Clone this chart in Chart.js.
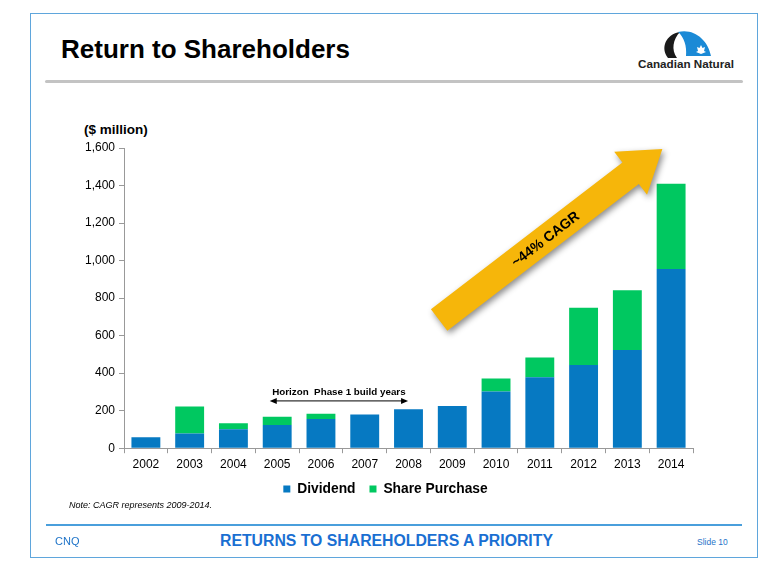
<!DOCTYPE html>
<html>
<head>
<meta charset="utf-8">
<script src="https://cdn.jsdelivr.net/npm/chart.js@4.4.1/dist/chart.umd.min.js"></script>
<style>
  body { margin: 0; background: #fff; font-family: "Liberation Sans", Arial, sans-serif; }
  #slide { position: relative; width: 765px; height: 569px; overflow: hidden; }
  .frame { position: absolute; left: 30px; top: 13px; width: 726px; height: 543px; border: 1px solid #5fa6dc; }
  .title { position: absolute; left: 61px; top: 34px; font-size: 26px; font-weight: bold; color: #000; }
  .rule { position: absolute; left: 45px; top: 80px; width: 698px; height: 3px; background: #c3c3c3; border-radius: 2px; }
  .unit { position: absolute; left: 84px; top: 122px; font-size: 13.5px; font-weight: bold; }
  .note { position: absolute; left: 69px; top: 500px; font-size: 9px; font-style: italic; }
  .foot-rule { position: absolute; left: 46px; top: 524px; width: 696px; height: 2px; background: #4a9fdc; }
  .cnq { position: absolute; left: 55px; top: 535px; font-size: 11px; color: #1f74c8; }
  .motto { position: absolute; left: 220px; top: 532px; font-size: 15.8px; font-weight: bold; color: #1a6fd2; }
  .slide-no { position: absolute; left: 697px; top: 537px; font-size: 8.5px; color: #1f74c8; }
  .logo { position: absolute; left: 630px; top: 26px; }
  #wrap { position: absolute; left: 78px; top: 136px; width: 632px; height: 370px; }
</style>
</head>
<body>
<div id="slide">
  <div class="frame"></div>
  <div class="title">Return to Shareholders</div>
  <div class="rule"></div>
  <svg class="logo" width="110" height="46" viewBox="0 0 110 46">
    <path d="M50 6 C36 8 30 22 38 32 L47 32 C41 24 43 13 50 6 Z" fill="#1a1a1a"/>
    <path d="M48 6 C64 2 78 14 81 30 L56 30 C57 20 54 11 48 6 Z" fill="#1b8ad6"/>
    <path d="M71 19 L72.5 22 L75 21 L74 25 L76 26 L71 28 L66 26 L68 25 L67 21 L69.5 22 Z" fill="#fff"/>
    <text x="8" y="42" font-family="Liberation Sans Narrow, Liberation Sans, Arial" font-size="10.5" font-weight="bold" fill="#222" textLength="96" lengthAdjust="spacingAndGlyphs">Canadian Natural</text>
  </svg>
  <div class="unit">($ million)</div>
  <div id="wrap"><canvas id="returnsChart"></canvas></div>
  <div class="note">Note: CAGR represents 2009-2014.</div>
  <div class="foot-rule"></div>
  <div class="cnq">CNQ</div>
  <div class="motto">RETURNS TO SHAREHOLDERS A PRIORITY</div>
  <div class="slide-no">Slide 10</div>
</div>
<script>
// Data ($ million)
const years = ['2002', '2003', '2004', '2005', '2006', '2007', '2008', '2009', '2010', '2011', '2012', '2013', '2014'];
const dividend = [59, 78, 101, 123, 155, 179, 208, 225, 302, 378, 444, 524, 955];
const sharePurchase = [0, 144, 32, 44, 28, 0, 0, 0, 69, 105, 305, 318, 455];
const yTicks = [0, 200, 400, 600, 800, 1000, 1200, 1400, 1600];

// Annotations placed in data space (category index, value)
const horizonSpan = { from: 2.83, to: 5.99, value: 252, label: 'Horizon  Phase 1 build years' };
const cagrArrow = { from: [6.7, 683], to: [11.8, 1595], label: '~44% CAGR' };

const annotations = {
    id: 'annotations',
    afterDatasetsDraw(chart) {
        const { ctx, scales: { x, y } } = chart;

        // Horizon double arrow
        const hx1 = x.getPixelForValue(horizonSpan.from);
        const hx2 = x.getPixelForValue(horizonSpan.to);
        const hy = y.getPixelForValue(horizonSpan.value);
        ctx.save();
        ctx.strokeStyle = '#000';
        ctx.fillStyle = '#000';
        ctx.lineWidth = 1;
        ctx.beginPath();
        ctx.moveTo(hx1 + 4, hy);
        ctx.lineTo(hx2 - 4, hy);
        ctx.stroke();
        [[hx1, 1], [hx2, -1]].forEach(([px, d]) => {
            ctx.beginPath();
            ctx.moveTo(px, hy);
            ctx.lineTo(px + 7 * d, hy - 3);
            ctx.lineTo(px + 7 * d, hy + 3);
            ctx.closePath();
            ctx.fill();
        });
        ctx.font = 'bold 9.8px "Liberation Sans", Arial';
        ctx.textAlign = 'center';
        ctx.textBaseline = 'bottom';
        ctx.fillText(horizonSpan.label, (hx1 + hx2) / 2, hy - 4);
        ctx.restore();

        // Big CAGR arrow
        const ax1 = x.getPixelForValue(cagrArrow.from[0]);
        const ay1 = y.getPixelForValue(cagrArrow.from[1]);
        const ax2 = x.getPixelForValue(cagrArrow.to[0]);
        const ay2 = y.getPixelForValue(cagrArrow.to[1]);
        const len = Math.hypot(ax2 - ax1, ay2 - ay1);
        const ang = Math.atan2(ay2 - ay1, ax2 - ax1);
        const shaft = 13.5, head = 27, headLen = 40;
        ctx.save();
        ctx.translate(ax1, ay1);
        ctx.rotate(ang);
        const arrowPath = () => {
            ctx.beginPath();
            ctx.moveTo(0, -shaft);
            ctx.lineTo(len - headLen, -shaft);
            ctx.lineTo(len - headLen, -head);
            ctx.lineTo(len, 0);
            ctx.lineTo(len - headLen, head);
            ctx.lineTo(len - headLen, shaft);
            ctx.lineTo(0, shaft);
            ctx.closePath();
        };
        ctx.shadowColor = 'rgba(0,0,0,0.45)';
        ctx.shadowBlur = 6;
        ctx.shadowOffsetX = 2;
        ctx.shadowOffsetY = 3;
        arrowPath();
        ctx.fillStyle = '#f6b60a';
        ctx.fill();
        ctx.shadowColor = 'transparent';
        ctx.fillStyle = '#000';
        ctx.font = 'bold 14px "Liberation Sans", Arial';
        ctx.textAlign = 'center';
        ctx.textBaseline = 'middle';
        ctx.fillText(cagrArrow.label, len * 0.475, 1);
        ctx.restore();
    }
};

const ctx = document.getElementById('returnsChart').getContext('2d');
const returnsChart = new Chart(ctx, {
    type: 'bar',
    data: {
        labels: years,
        datasets: [{
            label: 'Dividend',
            data: dividend,
            backgroundColor: '#0679c2'
        }, {
            label: 'Share Purchase',
            data: sharePurchase,
            backgroundColor: '#00c860'
        }]
    },
    options: {
        responsive: true,
        maintainAspectRatio: false,
        animation: false,
        layout: { padding: { top: 12, right: 17, left: 0, bottom: 0 } },
        datasets: { bar: { categoryPercentage: 1, barPercentage: 0.66 } },
        plugins: {
            legend: {
                position: 'bottom',
                labels: {
                    boxWidth: 7,
                    boxHeight: 7,
                    padding: 14,
                    color: '#000',
                    font: { family: '"Liberation Sans", Arial', size: 13.8, weight: 'bold' }
                }
            },
            tooltip: { enabled: false }
        },
        scales: {
            x: {
                stacked: true,
                grid: { drawOnChartArea: false, tickLength: 5, color: '#999' },
                border: { color: '#999' },
                ticks: { color: '#000', padding: 4, font: { family: '"Liberation Sans", Arial', size: 12 } },
                afterFit(scale) { scale.height = 20; }
            },
            y: {
                stacked: true,
                min: 0,
                max: 1600,
                afterBuildTicks(scale) { scale.ticks = yTicks.map(v => ({ value: v })); },
                grid: { drawOnChartArea: false, tickLength: 5, color: '#999' },
                border: { color: '#999' },
                ticks: {
                    color: '#000',
                    padding: 4,
                    font: { family: '"Liberation Sans", Arial', size: 12 },
                    callback: v => v.toLocaleString('en-US')
                },
                afterFit(scale) { scale.width = 46; }
            }
        }
    },
    plugins: [annotations]
});
</script>
</body>
</html>
